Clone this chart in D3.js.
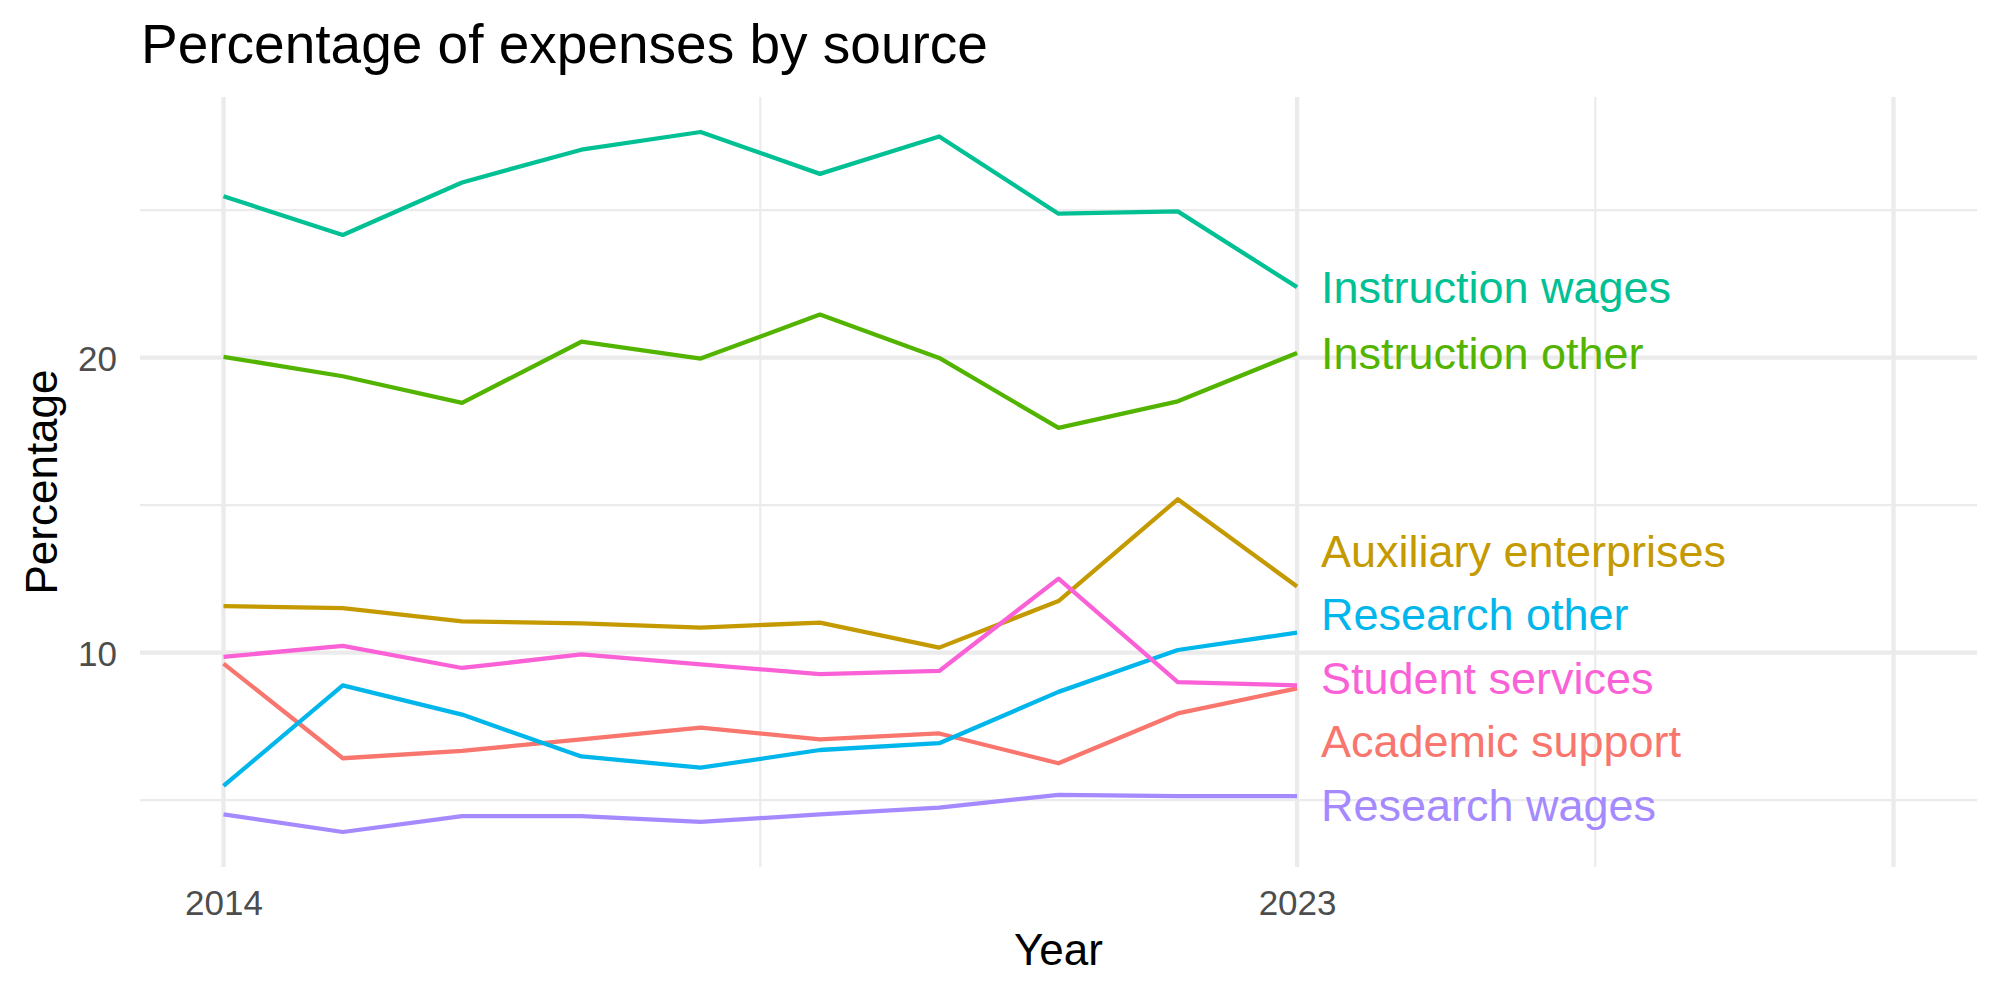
<!DOCTYPE html>
<html lang="en">
<head>
<meta charset="utf-8">
<title>Percentage of expenses by source</title>
<script src="https://d3js.org/d3.v7.min.js"></script>
<style>
  body { margin: 0; background: #fff; }
  svg text { font-family: "Liberation Sans", Arial, Helvetica, sans-serif; }
  .grid-major { stroke: #ebebeb; stroke-width: 4.27; }
  .grid-minor { stroke: #ebebeb; stroke-width: 2.13; }
  .tick-label { fill: #4d4d4d; font-size: 35px; }
  .axis-title { fill: #000; font-size: 44px; }
  .series { fill: none; stroke-width: 4.27; stroke-linejoin: round; }
</style>
</head>
<body>
<script>
const w = 2000;
const h = 1000;
const margin = {top: 97, right: 23, bottom: 133, left: 140};

// data
const years = [2014, 2015, 2016, 2017, 2018, 2019, 2020, 2021, 2022, 2023];
const sources = ["Academic support", "Auxiliary enterprises", "Instruction other",
                 "Instruction wages", "Research other", "Research wages", "Student services"];
const academicSupport     = [9.63, 6.42, 6.67, 7.06, 7.46, 7.06, 7.26, 6.25, 7.94, 8.79];
const auxiliaryEnterprises = [11.58, 11.51, 11.06, 10.99, 10.85, 11.02, 10.17, 11.75, 15.20, 12.24];
const instructionOther    = [20.03, 19.37, 18.47, 20.54, 19.97, 21.46, 19.99, 17.62, 18.52, 20.16];
const instructionWages    = [25.47, 24.16, 25.94, 27.05, 27.65, 26.23, 27.50, 24.88, 24.96, 22.39];
const researchOther       = [5.48, 8.89, 7.90, 6.48, 6.10, 6.70, 6.93, 8.67, 10.09, 10.68];
const researchWages       = [4.52, 3.92, 4.46, 4.46, 4.26, 4.52, 4.75, 5.18, 5.14, 5.14];
const studentServices     = [9.86, 10.23, 9.48, 9.94, 9.60, 9.27, 9.38, 12.51, 9.00, 8.89];

const xLimits = [2014, 2028];
const xBreaks = [2014, 2023, 2028];
const xLabels = ["2014", "2023", ""];
const xMinor = [2018.5, 2025.5];
const yBreaks = [10, 20];
const yMinor = [5, 15, 25];

const colors = ["#F8766D", "#C49A00", "#53B400", "#00C094", "#00B6EB", "#A58AFF", "#FB61D7"];

const seriesValues = [academicSupport, auxiliaryEnterprises, instructionOther,
                      instructionWages, researchOther, researchWages, studentServices];
const series = sources.map((name, i) => ({
    name: name,
    color: colors[i],
    values: years.map((y, j) => ({year: y, value: seriesValues[i][j]}))
}));

// ggplot style 5% expansion
function expand(ext) {
    const pad = (ext[1] - ext[0]) * 0.05;
    return [ext[0] - pad, ext[1] + pad];
}
const yExtent = d3.extent(seriesValues.flat());

const xScale = d3.scaleLinear()
    .domain(expand(xLimits))
    .range([margin.left, w - margin.right]);
const yScale = d3.scaleLinear()
    .domain(expand(yExtent))
    .range([h - margin.bottom, margin.top]);

const svg = d3.select("body").append("svg")
    .attr("width", w)
    .attr("height", h);

// grid
const grid = svg.append("g");
grid.selectAll(".ymin").data(yMinor).join("line")
    .attr("class", "grid-minor")
    .attr("x1", margin.left).attr("x2", w - margin.right)
    .attr("y1", d => yScale(d)).attr("y2", d => yScale(d));
grid.selectAll(".xmin").data(xMinor).join("line")
    .attr("class", "grid-minor")
    .attr("y1", margin.top).attr("y2", h - margin.bottom)
    .attr("x1", d => xScale(d)).attr("x2", d => xScale(d));
grid.selectAll(".ymaj").data(yBreaks).join("line")
    .attr("class", "grid-major")
    .attr("x1", margin.left).attr("x2", w - margin.right)
    .attr("y1", d => yScale(d)).attr("y2", d => yScale(d));
grid.selectAll(".xmaj").data(xBreaks).join("line")
    .attr("class", "grid-major")
    .attr("y1", margin.top).attr("y2", h - margin.bottom)
    .attr("x1", d => xScale(d)).attr("x2", d => xScale(d));

// axes (theme_minimal: no lines, just labels)
const bottomAxis = d3.axisBottom(xScale)
    .tickValues(xBreaks)
    .tickFormat((d, i) => xLabels[i])
    .tickSize(0)
    .tickPadding(0);
const gx = svg.append("g")
    .attr("transform", `translate(0, ${h - margin.bottom})`)
    .call(bottomAxis);
gx.select(".domain").remove();
gx.selectAll("text")
    .attr("class", "tick-label")
    .attr("dy", null)
    .attr("y", 48)
    .attr("font-size", null)
    .attr("font-family", null);

const leftAxis = d3.axisLeft(yScale)
    .tickValues(yBreaks)
    .tickSize(0)
    .tickPadding(23);
const gy = svg.append("g")
    .attr("transform", `translate(${margin.left}, 0)`)
    .call(leftAxis);
gy.select(".domain").remove();
gy.selectAll("text")
    .attr("class", "tick-label")
    .attr("dy", "0.36em")
    .attr("font-size", null)
    .attr("font-family", null);

// lines
const line = d3.line()
    .x(d => xScale(d.year))
    .y(d => yScale(d.value));

svg.append("g").selectAll("path")
    .data(series)
    .join("path")
    .attr("class", "series")
    .attr("stroke", d => d.color)
    .attr("d", d => line(d.values));

// end labels, pushed apart vertically so they don't overlap
const labelSize = 45;
const labelGap = 63.5;
const lastYear = years[years.length - 1];
let labels = series.map(s => ({
    name: s.name,
    color: s.color,
    target: yScale(s.values[s.values.length - 1].value)
})).sort((a, b) => a.target - b.target);

let clusters = labels.map(l => ({items: [l]}));
function place(c) {
    const mean = d3.mean(c.items, d => d.target);
    const n = c.items.length;
    c.items.forEach((d, i) => { d.y = mean + (i - (n - 1) / 2) * labelGap; });
}
clusters.forEach(place);
let merged = true;
while (merged) {
    merged = false;
    for (let i = 0; i < clusters.length - 1; i++) {
        const a = clusters[i], b = clusters[i + 1];
        const aLast = a.items[a.items.length - 1].y;
        const bFirst = b.items[0].y;
        if (bFirst - aLast < labelGap) {
            a.items = a.items.concat(b.items);
            clusters.splice(i + 1, 1);
            place(a);
            merged = true;
            break;
        }
    }
}

svg.append("g").selectAll("text")
    .data(labels)
    .join("text")
    .attr("x", xScale(lastYear + 0.2))
    .attr("y", d => d.y)
    .attr("dy", "0.36em")
    .attr("font-size", labelSize)
    .attr("fill", d => d.color)
    .text(d => d.name);

// titles
svg.append("text")
    .attr("x", margin.left + 1)
    .attr("y", 63)
    .attr("font-size", 55)
    .attr("fill", "#000")
    .text("Percentage of expenses by source");

svg.append("text")
    .attr("class", "axis-title")
    .attr("x", (margin.left + w - margin.right) / 2)
    .attr("y", 965)
    .attr("text-anchor", "middle")
    .text("Year");

svg.append("text")
    .attr("class", "axis-title")
    .attr("transform", `translate(57, ${(margin.top + h - margin.bottom) / 2}) rotate(-90)`)
    .attr("text-anchor", "middle")
    .text("Percentage");
</script>
</body>
</html>
